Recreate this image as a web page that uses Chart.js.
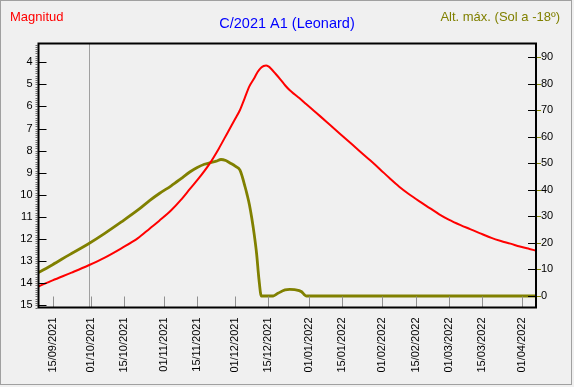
<!DOCTYPE html>
<html>
<head>
<meta charset="utf-8">
<title>C/2021 A1 (Leonard)</title>
<script src="https://cdn.jsdelivr.net/npm/chart.js@4.4.1/dist/chart.umd.min.js"></script>
<style>
  html, body { margin: 0; padding: 0; background: #f0f0f0; }
  canvas { display: block; }
</style>
</head>
<body>
<canvas id="cometChart" width="574" height="387"></canvas>
<script>
(function(){
  // --- data ---
  var ORIGIN = '2021-09-15';

  var magDates = [
    '2021-09-09','2021-09-15','2021-09-23','2021-09-30','2021-10-07','2021-10-14','2021-10-21','2021-10-26',
    '2021-10-30','2021-11-04','2021-11-08','2021-11-12','2021-11-16','2021-11-20','2021-11-24','2021-11-28',
    '2021-12-01','2021-12-03','2021-12-05','2021-12-07','2021-12-09','2021-12-10','2021-12-11','2021-12-12',
    '2021-12-13','2021-12-14','2021-12-15','2021-12-16','2021-12-18','2021-12-20','2021-12-22','2021-12-24',
    '2021-12-26','2021-12-28','2021-12-31','2022-01-03','2022-01-06','2022-01-10','2022-01-14','2022-01-18',
    '2022-01-22','2022-01-27','2022-01-31','2022-02-04','2022-02-08','2022-02-12','2022-02-17','2022-02-21',
    '2022-02-25','2022-03-01','2022-03-06','2022-03-10','2022-03-14','2022-03-19','2022-03-23','2022-03-27',
    '2022-03-31','2022-04-04','2022-04-07'
  ];
  var magValues = [
    14.15, 13.87, 13.52, 13.20, 12.84, 12.42, 11.96, 11.52,
    11.17, 10.70, 10.24, 9.72, 9.20, 8.62, 7.92, 7.14,
    6.56, 6.16, 5.62, 5.08, 4.72, 4.52, 4.36, 4.24,
    4.17, 4.15, 4.19, 4.28, 4.52, 4.77, 5.04, 5.27,
    5.45, 5.62, 5.90, 6.18, 6.46, 6.84, 7.22, 7.60,
    7.98, 8.45, 8.84, 9.24, 9.62, 9.95, 10.32, 10.60,
    10.88, 11.12, 11.37, 11.55, 11.73, 11.95, 12.09, 12.21,
    12.34, 12.45, 12.53
  ];

  var altDates = [
    '2021-09-09','2021-09-15','2021-09-22','2021-09-30','2021-10-07','2021-10-14','2021-10-21','2021-10-26',
    '2021-10-30','2021-11-04','2021-11-08','2021-11-12','2021-11-15','2021-11-18','2021-11-21','2021-11-23',
    '2021-11-25','2021-11-27','2021-11-29','2021-12-01','2021-12-03','2021-12-04','2021-12-05','2021-12-06',
    '2021-12-07','2021-12-08','2021-12-09','2021-12-10','2021-12-11','2021-12-12','2021-12-17','2021-12-19',
    '2021-12-22','2021-12-24','2021-12-26','2021-12-29','2021-12-30','2021-12-31','2022-04-07'
  ];
  var altValues = [
    8.8, 11.8, 15.5, 19.6, 23.6, 27.9, 32.4, 36.0,
    38.6, 41.5, 44.1, 46.8, 48.4, 49.6, 50.3, 50.8,
    51.4, 51.0, 50.0, 48.9, 47.4, 44.8, 41.6, 38.2,
    34.3, 29.2, 23.2, 16.0, 6.3, 0, 0, 1.0,
    2.3, 2.5, 2.4, 1.6, 0.6, 0, 0
  ];

  var xTickDates = [
    '2021-09-15','2021-10-01','2021-10-15','2021-11-01','2021-11-15','2021-12-01','2021-12-15',
    '2022-01-01','2022-01-15','2022-02-01','2022-02-15','2022-03-01','2022-03-15','2022-04-01'
  ];
  var magTicks = [4, 5, 6, 7, 8, 9, 10, 11, 12, 13, 14, 15];
  var altTicks = [0, 10, 20, 30, 40, 50, 60, 70, 80, 90];
  var todayDate = '2021-09-30T12:00';

  var xRange = ['2021-09-09T01:30', '2022-04-06T19:00'];
  var magRange = [3.15, 15.1];
  var altRange = [-4.33, 95.08];

  var chartTitle = 'C/2021 A1 (Leonard)';
  var leftTitle = 'Magnitud';
  var rightTitle = 'Alt. máx. (Sol a -18º)';

  // --- helpers ---
  var DAY = 86400000;
  var originMs = Date.parse(ORIGIN + 'T00:00:00Z');
  function dayOf(s){
    var iso = s.length === 10 ? s + 'T00:00:00Z' : s + ':00Z';
    return (Date.parse(iso) - originMs) / DAY;
  }
  function pad(n){ return ('0' + n).slice(-2); }
  function fmtDay(v){
    var d = new Date(originMs + Math.round(v) * DAY);
    return pad(d.getUTCDate()) + '/' + pad(d.getUTCMonth() + 1) + '/' + d.getUTCFullYear();
  }
  function toPoints(dates, values){
    return dates.map(function(d, i){ return { x: dayOf(d), y: values[i] }; });
  }

  var FONT = 'Liberation Sans';
  var OLIVE = '#808000';

  var decor = {
    id: 'decor',
    beforeDraw: function(chart){
      var ctx = chart.ctx;
      ctx.save();
      ctx.fillStyle = '#f0f0f0';
      ctx.fillRect(0, 0, chart.width, chart.height);
      ctx.strokeStyle = '#a0a0a0';
      ctx.lineWidth = 1;
      ctx.strokeRect(0.5, 0.5, 571, 384);
      ctx.restore();
    },
    beforeDatasetsDraw: function(chart){
      var ctx = chart.ctx, a = chart.chartArea;
      var x = Math.round(chart.scales.x.getPixelForValue(dayOf(todayDate))) + 0.5;
      ctx.save();
      ctx.strokeStyle = '#a0a0a0';
      ctx.lineWidth = 1;
      ctx.beginPath();
      ctx.moveTo(x, a.top);
      ctx.lineTo(x, a.bottom);
      ctx.stroke();
      ctx.restore();
    },
    afterDatasetsDraw: function(chart){
      var ctx = chart.ctx, a = chart.chartArea;
      var sx = chart.scales.x, sy = chart.scales.y, sy1 = chart.scales.y1;
      ctx.save();
      ctx.lineWidth = 1;

      // bottom ticks (inside)
      ctx.strokeStyle = '#909090';
      ctx.beginPath();
      xTickDates.forEach(function(d){
        var x = Math.round(sx.getPixelForValue(dayOf(d))) + 0.5;
        ctx.moveTo(x, a.bottom - 11);
        ctx.lineTo(x, a.bottom);
      });
      ctx.stroke();

      // left major ticks (inside)
      ctx.strokeStyle = '#000';
      ctx.beginPath();
      magTicks.forEach(function(v){
        var y = Math.round(sy.getPixelForValue(v)) + 0.5;
        ctx.moveTo(a.left, y);
        ctx.lineTo(a.left + 8, y);
      });
      ctx.stroke();

      // left minor ticks (outside)
      ctx.strokeStyle = '#707070';
      ctx.beginPath();
      for (var k = Math.ceil(magRange[0] * 10); k <= Math.floor(magRange[1] * 10); k++) {
        var ym = Math.round(sy.getPixelForValue(k / 10)) + 0.5;
        ctx.moveTo(a.left - 3, ym);
        ctx.lineTo(a.left - 1, ym);
      }
      ctx.stroke();

      // right ticks
      altTicks.forEach(function(v){
        var y = Math.round(sy1.getPixelForValue(v)) + 0.5;
        ctx.strokeStyle = '#000';
        ctx.beginPath(); ctx.moveTo(a.right - 8, y); ctx.lineTo(a.right, y); ctx.stroke();
        ctx.strokeStyle = OLIVE;
        ctx.beginPath(); ctx.moveTo(a.right + 1, y); ctx.lineTo(a.right + 5, y); ctx.stroke();
      });

      // plot frame
      ctx.strokeStyle = '#000';
      ctx.lineWidth = 2;
      ctx.strokeRect(a.left, a.top, a.right - a.left, a.bottom - a.top);

      // titles
      ctx.textBaseline = 'middle';
      ctx.font = '13px "' + FONT + '"';
      ctx.fillStyle = '#ff0000';
      ctx.textAlign = 'left';
      ctx.fillText(leftTitle, 10, 17);
      ctx.fillStyle = OLIVE;
      ctx.textAlign = 'right';
      ctx.fillText(rightTitle, 560, 17);
      ctx.font = '14.5px "' + FONT + '"';
      ctx.fillStyle = '#0000ff';
      ctx.textAlign = 'center';
      ctx.fillText(chartTitle, 287, 24);
      ctx.restore();
    }
  };

  function fixedTicks(list){
    return function(scale){ scale.ticks = list.map(function(v){ return { value: v }; }); };
  }

  new Chart(document.getElementById('cometChart').getContext('2d'), {
    type: 'line',
    data: {
      datasets: [
        { label: leftTitle, data: toPoints(magDates, magValues), yAxisID: 'y',
          borderColor: '#ff0000', borderWidth: 2, pointRadius: 0, cubicInterpolationMode: 'monotone', fill: false },
        { label: rightTitle, data: toPoints(altDates, altValues), yAxisID: 'y1',
          borderColor: OLIVE, borderWidth: 2.8, pointRadius: 0, cubicInterpolationMode: 'monotone', fill: false }
      ]
    },
    options: {
      responsive: false,
      animation: false,
      layout: { padding: { top: 43.5, left: 0, right: 0, bottom: 0 } },
      plugins: { legend: { display: false }, tooltip: { enabled: false }, title: { display: false } },
      scales: {
        x: {
          type: 'linear', position: 'bottom',
          min: dayOf(xRange[0]), max: dayOf(xRange[1]),
          afterBuildTicks: fixedTicks(xTickDates.map(dayOf)),
          afterFit: function(s){ s.height = 79.5; },
          grid: { display: false, drawTicks: false }, border: { display: false },
          ticks: { autoSkip: false, minRotation: 90, maxRotation: 90, padding: 10, color: '#000',
                   font: { family: FONT, size: 11 }, callback: function(v){ return fmtDay(v); } }
        },
        y: {
          type: 'linear', position: 'left', reverse: true,
          min: magRange[0], max: magRange[1],
          afterBuildTicks: fixedTicks(magTicks),
          afterFit: function(s){ s.width = 38.5; },
          grid: { display: false, drawTicks: false }, border: { display: false },
          ticks: { padding: 6, color: '#000', font: { family: FONT, size: 11 } }
        },
        y1: {
          type: 'linear', position: 'right',
          min: altRange[0], max: altRange[1],
          afterBuildTicks: fixedTicks(altTicks),
          afterFit: function(s){ s.width = 38; },
          grid: { display: false, drawTicks: false }, border: { display: false },
          ticks: { padding: 5, color: '#000', font: { family: FONT, size: 11 } }
        }
      }
    },
    plugins: [decor]
  });
})();
</script>
</body>
</html>
